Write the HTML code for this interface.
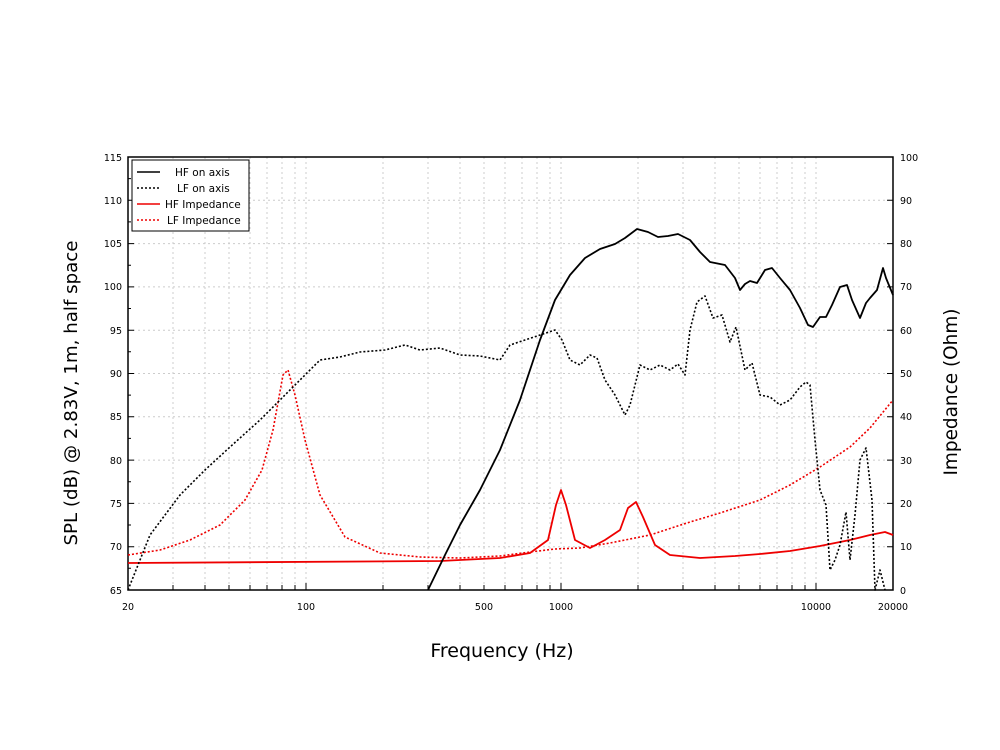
<!DOCTYPE html>
<html><head><meta charset="utf-8"><style>
body{margin:0;background:#fff}
svg{display:block}
text{font-family:"DejaVu Sans","Liberation Sans",sans-serif;fill:#000}
</style></head><body>
<svg width="1000" height="750" viewBox="0 0 1000 750">
<g stroke="#ccc" stroke-width="1" stroke-dasharray="2,3">
<path d="M173 157V590M205 157V590M229 157V590M250 157V590M267 157V590M282 157V590M295 157V590M306 157V590M383 157V590M428 157V590M460 157V590M484 157V590M505 157V590M522 157V590M537 157V590M550 157V590M561 157V590M638 157V590M683 157V590M715 157V590M739 157V590M760 157V590M777 157V590M792 157V590M805 157V590M816 157V590"/>
<path d="M128 200.3H893M128 243.6H893M128 286.9H893M128 330.2H893M128 373.5H893M128 416.8H893M128 460.1H893M128 503.4H893M128 546.7H893"/>
</g>
<rect x="128" y="157" width="765" height="433" fill="none" stroke="#000" stroke-width="1.5"/>
<g stroke="#000" stroke-width="1">
<path d="M128 157h6M128 200.3h6M128 243.6h6M128 286.9h6M128 330.2h6M128 373.5h6M128 416.8h6M128 460.1h6M128 503.4h6M128 546.7h6M128 178.6h3M128 221.9h3M128 265.2h3M128 308.5h3M128 351.8h3M128 395.1h3M128 438.4h3M128 481.7h3M128 525h3M128 568.3h3"/>
<path d="M893 157h-6M893 200.3h-6M893 243.6h-6M893 286.9h-6M893 330.2h-6M893 373.5h-6M893 416.8h-6M893 460.1h-6M893 503.4h-6M893 546.7h-6"/>
<path d="M173 590v-5M205 590v-5M229 590v-5M250 590v-5M267 590v-5M282 590v-5M295 590v-5M306 590v-7M383 590v-5M428 590v-5M460 590v-5M484 590v-5M505 590v-5M522 590v-5M537 590v-5M550 590v-5M561 590v-7M638 590v-5M683 590v-5M715 590v-5M739 590v-5M760 590v-5M777 590v-5M792 590v-5M805 590v-5M816 590v-7"/>
</g>
<g font-size="9.5" text-anchor="end">
<text x="122" y="161">115</text><text x="122" y="204">110</text><text x="122" y="247">105</text><text x="122" y="290">100</text><text x="122" y="334">95</text><text x="122" y="377">90</text><text x="122" y="420">85</text><text x="122" y="464">80</text><text x="122" y="507">75</text><text x="122" y="550">70</text><text x="122" y="594">65</text>
</g>
<g font-size="9.5" text-anchor="start">
<text x="900" y="161">100</text><text x="900" y="204">90</text><text x="900" y="247">80</text><text x="900" y="290">70</text><text x="900" y="334">60</text><text x="900" y="377">50</text><text x="900" y="420">40</text><text x="900" y="464">30</text><text x="900" y="507">20</text><text x="900" y="550">10</text><text x="900" y="594">0</text>
</g>
<g font-size="9.5" text-anchor="middle">
<text x="128" y="610">20</text><text x="306" y="610">100</text><text x="484" y="610">500</text><text x="561" y="610">1000</text><text x="816" y="610">10000</text><text x="893" y="610">20000</text>
</g>
<text x="502" y="657" font-size="19" text-anchor="middle">Frequency (Hz)</text>
<text transform="translate(77,393) rotate(-90)" font-size="18" text-anchor="middle" textLength="305" lengthAdjust="spacingAndGlyphs">SPL (dB) @ 2.83V, 1m, half space</text>
<text transform="translate(957,392) rotate(-90)" font-size="19" text-anchor="middle" textLength="167" lengthAdjust="spacingAndGlyphs">Impedance (Ohm)</text>
<g fill="none" stroke-linejoin="round">
<polyline stroke="#e00" stroke-width="1.8" points="128,563 440,561 500,558 530,553 548,540 556,505 561,490 566,505 575,540 590,548 605,540 620,530 628,508 636,502 643,517 655,545 670,555 700,558 735,556 760,554 790,551 820,546 850,540 870,535 885,532 893,535"/>
<polyline stroke="#e00" stroke-width="1.6" stroke-dasharray="2,2" points="128,555 160,550 190,540 220,525 245,500 262,470 273,430 283,375 288,370 295,395 305,440 320,495 345,537 380,553 420,557 460,558 500,556 530,552 555,549 580,548 610,543 650,535 690,522 720,513 760,500 790,485 820,467 850,447 870,428 893,400"/>
<polyline stroke="#000" stroke-width="1.6" stroke-dasharray="2,2" points="128,590 140,560 150,535 165,515 180,495 205,470 230,447 260,420 290,390 320,360 340,357 360,352 385,350 405,345 420,350 440,348 460,355 480,356 500,360 510,345 525,340 540,335 555,330 562,340 570,360 580,365 590,355 597,358 605,380 615,395 625,415 630,405 640,365 650,370 660,365 670,370 678,364 685,375 690,330 697,302 705,296 713,318 722,315 730,342 736,327 745,370 752,363 760,395 770,397 780,405 790,400 800,387 806,382 810,385 815,440 820,490 826,505 830,570 835,560 840,545 846,512 850,560 855,515 860,460 866,448 872,500 875,590 880,570 885,590"/>
<polyline stroke="#000" stroke-width="1.8" points="428,590 445,555 460,525 480,490 500,450 520,400 540,340 555,300 570,275 585,258 600,249 615,244 625,238 637,229 648,232 658,237 668,236 678,234 690,240 700,252 710,262 725,265 735,278 740,290 745,284 750,281 757,283 765,270 772,268 780,278 790,290 800,308 808,325 813,327 820,317 826,317 832,305 840,287 847,285 852,300 860,318 866,303 870,298 877,290 883,268 886,278 893,295"/>
</g>
<rect x="132" y="160" width="117" height="71" fill="#fff" stroke="#000" stroke-width="1"/>
<g stroke-width="1.6">
<line x1="137" y1="172" x2="160" y2="172" stroke="#000"/>
<line x1="137" y1="188" x2="160" y2="188" stroke="#000" stroke-dasharray="2,2"/>
<line x1="137" y1="204" x2="160" y2="204" stroke="#e00"/>
<line x1="137" y1="220" x2="160" y2="220" stroke="#e00" stroke-dasharray="2,2"/>
</g>
<g font-size="10.5">
<text x="175" y="176">HF on axis</text><text x="177" y="192">LF on axis</text><text x="165" y="208">HF Impedance</text><text x="167" y="224">LF Impedance</text>
</g>
</svg>
</body></html>
